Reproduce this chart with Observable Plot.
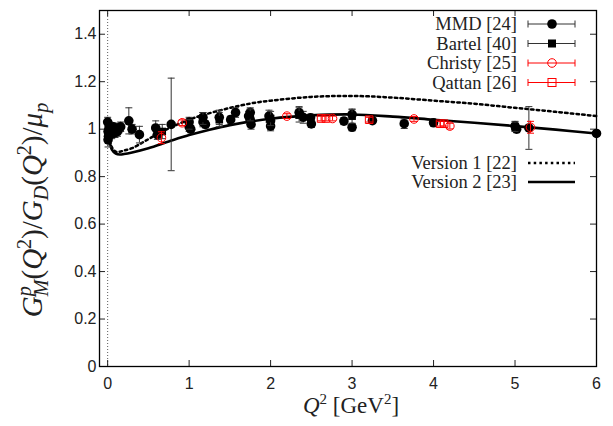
<!DOCTYPE html>
<html><head><meta charset="utf-8">
<script src="https://cdn.jsdelivr.net/npm/d3@7"></script>
<script src="https://cdn.jsdelivr.net/npm/@observablehq/plot@0.6"></script>
<style>body{margin:0;background:#fff;} #chart{width:613px;height:426px;}</style>
</head><body><div id="chart"></div>
<script>
// ---------- data ----------
const xTicks = [0, 1, 2, 3, 4, 5, 6];
const yTicks = [0, 0.2, 0.4, 0.6, 0.8, 1, 1.2, 1.4];

const mmdQ = [0.0, 0.005, 0.005, 0.01, 0.015, 0.02, 0.025, 0.03, 0.04, 0.05, 0.06, 0.07, 0.08, 0.09, 0.1, 0.12, 0.14, 0.16, 0.26, 0.30, 0.39, 0.59, 0.61, 0.78, 1.0, 1.0, 1.02, 1.17, 1.17, 1.2, 1.37, 1.51, 1.57, 1.73, 1.75, 1.75, 1.76, 1.98, 2.0, 2.0, 2.35, 2.4, 2.49, 2.5, 2.9, 3.0, 3.0, 3.25, 3.64, 4.0, 5.0, 5.02, 5.17, 6.0];
const mmdV = [1.03, 0.99, 0.955, 0.97, 1.0, 0.98, 1.01, 0.99, 1.0, 0.98, 1.0, 1.01, 0.995, 0.985, 1.0, 0.99, 1.005, 1.01, 1.035, 1.0, 0.977, 1.005, 0.977, 1.02, 1.03, 1.01, 1.0, 1.05, 1.03, 1.02, 1.05, 1.04, 1.07, 1.055, 1.07, 1.04, 1.02, 1.055, 1.013, 1.035, 1.07, 1.05, 1.048, 1.022, 1.034, 1.062, 1.008, 1.036, 1.023, 1.027, 1.013, 1.0, 1.005, 0.982];
const mmdE = [0.02, 0.03, 0.03, 0.03, 0.02, 0.02, 0.02, 0.015, 0.015, 0.02, 0.015, 0.015, 0.02, 0.02, 0.02, 0.02, 0.02, 0.02, 0.055, 0.02, 0.035, 0.03, 0.02, 0.195, 0.02, 0.02, 0.015, 0.02, 0.02, 0.015, 0.03, 0.015, 0.02, 0.02, 0.02, 0.02, 0.02, 0.025, 0.02, 0.02, 0.025, 0.025, 0.015, 0.015, 0.015, 0.02, 0.015, 0.01, 0.02, 0.01, 0.02, 0.015, 0.09, 0.01];

const bartelQ = [0.67, 1.0, 1.17, 1.37, 1.75, 2.0, 2.35, 3.0, 5.0];
const bartelV = [0.99, 1.02, 1.045, 1.04, 1.06, 1.045, 1.06, 1.055, 1.01];
const bartelE = [0.03, 0.02, 0.025, 0.03, 0.025, 0.03, 0.03, 0.03, 0.02];

const christyQ = [0.66, 0.915, 2.2, 2.76, 3.76, 4.2, 5.19];
const christyV = [0.964, 1.027, 1.055, 1.045, 1.043, 1.013, 1.008];
const christyE = [0.025, 0.012, 0.01, 0.01, 0.01, 0.012, 0.025];

const qattanQ = [2.62, 2.68, 3.21, 4.08, 4.13];
const qattanV = [1.045, 1.045, 1.04, 1.023, 1.023];
const qattanE = [0.01, 0.01, 0.01, 0.01, 0.01];

const v1Q = [0, 0.02, 0.05, 0.1, 0.15, 0.2, 0.3, 0.46, 0.67, 1.0, 1.3, 1.75, 2.0, 2.5, 3.0, 3.5, 4.0, 4.5, 5.0, 5.5, 6.0];
const v1V = [1.0, 0.96, 0.925, 0.905, 0.905, 0.91, 0.92, 0.95, 0.99, 1.04, 1.072, 1.108, 1.12, 1.136, 1.14, 1.133, 1.12, 1.107, 1.09, 1.073, 1.055];
const v2Q = [0, 0.02, 0.05, 0.1, 0.15, 0.2, 0.3, 0.5, 0.75, 1.0, 1.25, 1.5, 2.0, 2.5, 3.0, 3.5, 4.0, 4.5, 5.0, 5.5, 6.0];
const v2V = [1.0, 0.955, 0.915, 0.897, 0.893, 0.895, 0.902, 0.92, 0.948, 0.975, 0.998, 1.017, 1.044, 1.058, 1.062, 1.053, 1.04, 1.027, 1.013, 0.998, 0.982];

const legendData = ["MMD [24]", "Bartel [40]", "Christy [25]", "Qattan [26]"];
const legendCurves = ["Version 1 [22]", "Version 2 [23]"];

// ---------- build ----------
const toRows = (Q, V, E) => Q.map((q, i) => ({q, v: V[i], e: E ? E[i] : 0}));
const mmd = toRows(mmdQ, mmdV, mmdE);
const bartel = toRows(bartelQ, bartelV, bartelE);
const christy = toRows(christyQ, christyV, christyE);
const qattan = toRows(qattanQ, qattanV, qattanE);
const v1 = toRows(v1Q, v1V);
const v2 = toRows(v2Q, v2V);

const capSym = {draw(ctx) { ctx.moveTo(-3.5, 0); ctx.lineTo(3.5, 0); }};

function errMarks(data, color) {
  return [
    Plot.ruleX(data, {x: "q", y1: d => d.v - d.e, y2: d => d.v + d.e, stroke: color, strokeWidth: 1}),
    Plot.dot(data, {x: "q", y: d => d.v - d.e, symbol: capSym, stroke: color, fill: "none", strokeWidth: 1}),
    Plot.dot(data, {x: "q", y: d => d.v + d.e, symbol: capSym, stroke: color, fill: "none", strokeWidth: 1})
  ];
}

const mL = 99, mR = 17, mT = 10, mB = 60, W = 613, H = 426;
const pw = W - mL - mR, ph = H - mT - mB;
const dots = "2.5,3.2";

const svg = Plot.plot({
  width: W, height: H,
  marginLeft: mL, marginRight: mR, marginTop: mT, marginBottom: mB,
  style: {fontFamily: "'Liberation Sans', Arial, sans-serif", fontSize: "16px", color: "#222", background: "white", overflow: "visible"},
  x: {domain: [-0.1, 6]},
  y: {domain: [0, 1.5]},
  marks: [
    Plot.ruleX([0], {stroke: "#333", strokeWidth: 0.8, strokeDasharray: "1,2"}),
    Plot.axisX({ticks: xTicks, tickSize: 0, tickPadding: 11, label: null, tickFormat: d => String(d)}),
    Plot.axisY({ticks: yTicks, tickSize: 0, tickPadding: 3, label: null, tickFormat: d => String(d)}),
    Plot.tickX(xTicks, {x: d => d, insetTop: ph - 6, stroke: "#222"}),
    Plot.tickX(xTicks, {x: d => d, insetBottom: ph - 6, stroke: "#222"}),
    Plot.tickY(yTicks, {y: d => d, insetRight: pw - 6, stroke: "#222"}),
    Plot.tickY(yTicks, {y: d => d, insetLeft: pw - 6, stroke: "#222"}),
    Plot.line(v1, {x: "q", y: "v", curve: "catmull-rom", stroke: "black", strokeWidth: 2.5, strokeDasharray: dots}),
    Plot.line(v2, {x: "q", y: "v", curve: "catmull-rom", stroke: "black", strokeWidth: 2.6}),
    ...errMarks(mmd, "#333"),
    Plot.dot(mmd, {x: "q", y: "v", r: 4.8, fill: "black", stroke: "none"}),
    ...errMarks(bartel, "#333"),
    Plot.dot(bartel, {x: "q", y: "v", r: 4.3, symbol: "square", fill: "black", stroke: "none"}),
    ...errMarks(christy, "red"),
    Plot.dot(christy, {x: "q", y: "v", r: 4.3, fill: "none", stroke: "red", strokeWidth: 1}),
    ...errMarks(qattan, "red"),
    Plot.dot(qattan, {x: "q", y: "v", r: 4.3, symbol: "square", fill: "none", stroke: "red", strokeWidth: 1}),
    Plot.frame({stroke: "black", strokeWidth: 1.3})
  ]
});
document.getElementById("chart").appendChild(svg);

// ---------- legend & labels ----------
const s = d3.select(svg);
const serif = "'Liberation Serif', 'Times New Roman', serif";
const g = s.append("g");
const rowsY = [24, 43.5, 63, 82.5];
const colors = ["black", "black", "red", "red"];
legendData.forEach((t, i) => {
  const y = rowsY[i], c = colors[i];
  g.append("text").attr("x", 517).attr("y", y).attr("text-anchor", "end").attr("dominant-baseline", "central")
    .attr("font-family", serif).attr("font-size", 18.5).attr("fill", "#222").text(t);
  g.append("line").attr("x1", 528).attr("x2", 575).attr("y1", y).attr("y2", y).attr("stroke", c === "black" ? "#333" : "red");
  [528, 575].forEach(x => g.append("line").attr("x1", x).attr("x2", x).attr("y1", y - 3.5).attr("y2", y + 3.5).attr("stroke", c === "black" ? "#333" : "red"));
  if (i === 0) g.append("circle").attr("cx", 552).attr("cy", y).attr("r", 4.8).attr("fill", "black");
  if (i === 1) g.append("rect").attr("x", 548).attr("y", y - 4).attr("width", 8).attr("height", 8).attr("fill", "black");
  if (i === 2) g.append("circle").attr("cx", 552).attr("cy", y).attr("r", 4.3).attr("fill", "none").attr("stroke", "red");
  if (i === 3) g.append("rect").attr("x", 548).attr("y", y - 4).attr("width", 8).attr("height", 8).attr("fill", "none").attr("stroke", "red");
});
const curveY = [163, 182];
legendCurves.forEach((t, i) => {
  const y = curveY[i];
  g.append("text").attr("x", 517).attr("y", y).attr("text-anchor", "end").attr("dominant-baseline", "central")
    .attr("font-family", serif).attr("font-size", 18.5).attr("fill", "#222").text(t);
  g.append("line").attr("x1", 528).attr("x2", 575).attr("y1", y).attr("y2", y).attr("stroke", "black")
    .attr("stroke-width", 2.5).attr("stroke-dasharray", i === 0 ? dots : null);
});

// y label
const yl = s.append("text").attr("transform", "translate(42,210) rotate(-90)").attr("text-anchor", "middle")
  .attr("font-family", serif).attr("font-size", 29).attr("fill", "#222");
const parts = [
  ["G", {italic: true}],
  ["p", {italic: true, small: true, dy: -11}],
  ["M", {italic: true, small: true, dx: -10, dy: 17}],
  ["(", {dy: -6}],
  ["Q", {italic: true}],
  ["2", {small: true, dy: -11}],
  [")/", {dy: 11}],
  ["G", {italic: true}],
  ["D", {italic: true, small: true, dy: 6}],
  ["(", {dy: -6}],
  ["Q", {italic: true}],
  ["2", {small: true, dy: -11}],
  [")/", {dy: 11}],
  ["μ", {italic: true}],
  ["p", {italic: true, small: true, dy: 6}]
];
parts.forEach(([t, o]) => {
  const ts = yl.append("tspan").text(t);
  if (o.italic) ts.attr("font-style", "italic");
  if (o.small) ts.attr("font-size", 20);
  if (o.dx) ts.attr("dx", o.dx);
  if (o.dy) ts.attr("dy", o.dy);
});

// x label
const xl = s.append("text").attr("x", 351).attr("y", 413).attr("text-anchor", "middle")
  .attr("font-family", serif).attr("font-size", 23).attr("fill", "#222");
xl.append("tspan").attr("font-style", "italic").text("Q");
xl.append("tspan").attr("font-size", 15).attr("dy", -9).text("2");
xl.append("tspan").attr("dy", 9).text(" [GeV");
xl.append("tspan").attr("font-size", 15).attr("dy", -9).text("2");
xl.append("tspan").attr("dy", 9).text("]");
</script>
</body></html>
